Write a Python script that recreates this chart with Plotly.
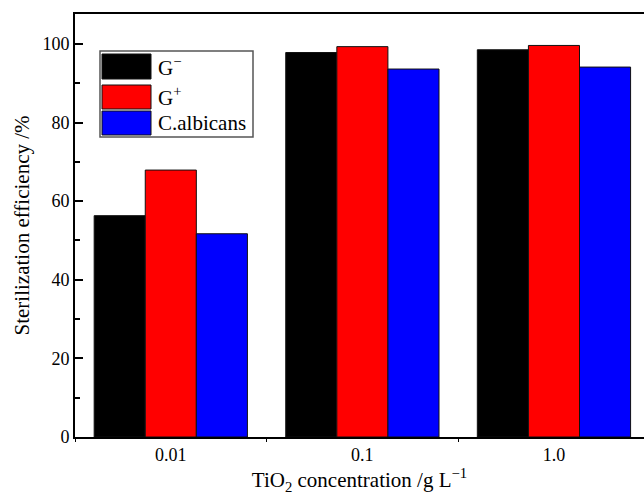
import plotly.graph_objects as go

categories = ["0.01", "0.1", "1.0"]
series_names = ["G<sup>\u2212</sup>", "G<sup>+</sup>", "C.albicans"]
series_colors = ["#000000", "#ff0000", "#0000ff"]
g_minus = [56.3, 97.8, 98.5]
g_plus = [67.9, 99.3, 99.6]
c_albicans = [51.7, 93.6, 94.1]
y_ticks = [0, 20, 40, 60, 80, 100]

FONT = "Liberation Serif, Times New Roman, serif"

fig = go.Figure()
for name, vals, col in zip(series_names, [g_minus, g_plus, c_albicans], series_colors):
    fig.add_trace(go.Bar(x=categories, y=vals, name=name, marker_color=col,
                         marker_line_color="#111111", marker_line_width=1,
                         showlegend=False))

# plot area in pixels
PL, PR, PT, PB = 75, 644, 14, 437
def px(x):
    return (x - PL) / (PR - PL)
def py(y):
    return (PB - y) / (PB - PT)

# custom legend (box with large swatches)
lx0, lx1 = 100, 253
ly0, ly1 = 51, 137
shapes = [dict(type="rect", xref="paper", yref="paper", x0=px(lx0), x1=px(lx1),
               y0=py(ly1), y1=py(ly0), line=dict(color="#555555", width=1.5),
               fillcolor="white", layer="above")]
annotations = []
rows = [(54, 79), (85, 109), (111, 135)]
for (y0, y1), name, col in zip(rows, series_names, series_colors):
    shapes.append(dict(type="rect", xref="paper", yref="paper", x0=px(102), x1=px(151),
                       y0=py(y1), y1=py(y0), line=dict(color="#111111", width=1),
                       fillcolor=col, layer="above"))
    annotations.append(dict(x=px(156), y=py((y0 + y1) / 2), xref="paper", yref="paper",
                            text=name, showarrow=False, xanchor="left", yanchor="middle",
                            font=dict(family=FONT, size=21, color="black")))

fig.update_layout(
    width=644, height=500,
    margin=dict(l=PL, r=0, t=PT, b=500 - PB),
    paper_bgcolor="white", plot_bgcolor="white",
    barmode="group", bargap=0.2, bargroupgap=0,
    font=dict(family=FONT, size=18, color="black"),
    shapes=shapes, annotations=annotations,
    xaxis=dict(type="category", range=[-0.5, 2.47], showline=True, linecolor="black",
               linewidth=2, mirror=True, ticks="outside", ticklen=3, tickwidth=1,
               tickson="boundaries", tickcolor="black", showgrid=False,
               tickfont=dict(family=FONT, size=18),
               title=dict(text="TiO<sub>2</sub> concentration /g L<sup>\u22121</sup>",
                          font=dict(family=FONT, size=21), standoff=9)),
    yaxis=dict(range=[0, 107.6], tickvals=y_ticks, showline=True, linecolor="black",
               linewidth=2, ticks="inside", ticklen=8, tickwidth=1.5, tickcolor="black",
               showgrid=False, zeroline=False,
               minor=dict(ticks="inside", ticklen=5, tickwidth=1.5, dtick=10, tickcolor="black"),
               tickfont=dict(family=FONT, size=18),
               title=dict(text="Sterilization efficiency /%", font=dict(family=FONT, size=21),
                          standoff=7)),
)

fig.write_html("out.html")
